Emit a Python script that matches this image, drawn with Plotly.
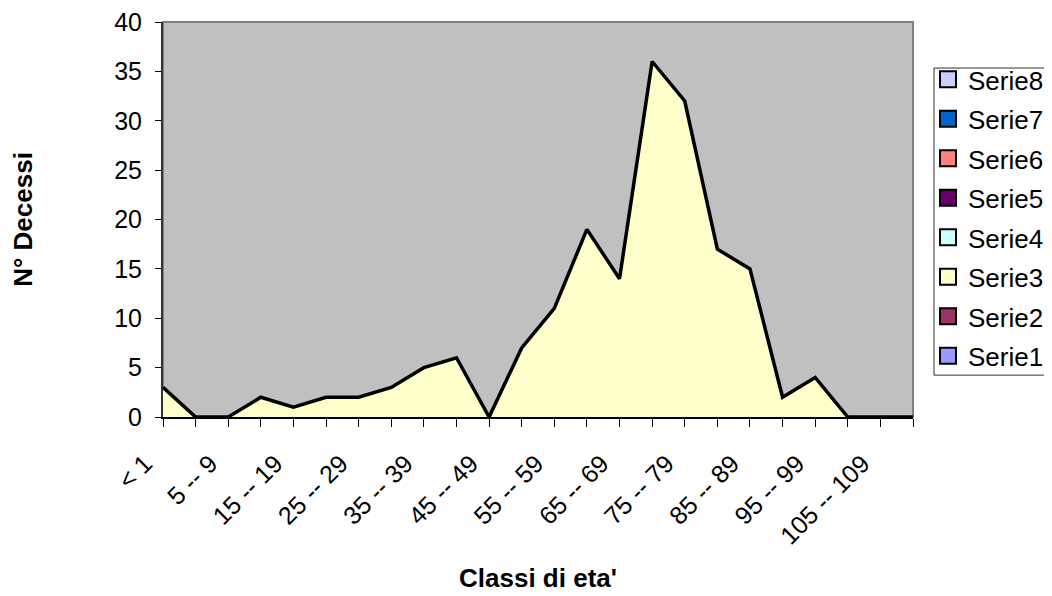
import plotly.graph_objects as go

categories = ["< 1", "1 -- 4", "5 -- 9", "10 -- 14", "15 -- 19", "20 -- 24",
              "25 -- 29", "30 -- 34", "35 -- 39", "40 -- 44", "45 -- 49",
              "50 -- 54", "55 -- 59", "60 -- 64", "65 -- 69", "70 -- 74",
              "75 -- 79", "80 -- 84", "85 -- 89", "90 -- 94", "95 -- 99",
              "100 -- 104", "105 -- 109", "> 109"]
serie3 = [3, 0, 0, 2, 1, 2, 2, 3, 5, 6, 0, 7, 11, 19, 14, 36, 32, 17, 15, 2, 4, 0, 0, 0]
series_names = ["Serie1", "Serie2", "Serie3", "Serie4", "Serie5", "Serie6", "Serie7", "Serie8"]
series_colors = ["#9999FF", "#993366", "#FFFFCC", "#CCFFFF", "#660066", "#FF8080", "#0066CC", "#CCCCFF"]
y_ticks = [0, 5, 10, 15, 20, 25, 30, 35, 40]

FONT = "Liberation Sans, Arial, sans-serif"

x_idx = list(range(len(categories)))

fig = go.Figure()
fig.add_trace(go.Scatter(
    x=x_idx, y=serie3, mode="lines", fill="tozeroy", fillcolor="#FFFFCC",
    line=dict(color="black", width=3.5), showlegend=False, name="Serie3",
    text=categories, hovertemplate="%{text}: %{y}<extra></extra>"))

# legend entries listed top (Serie8) to bottom (Serie1)
for name, color in list(zip(series_names, series_colors))[::-1]:
    fig.add_trace(go.Scatter(
        x=[None], y=[None], mode="markers", name=name, legendgroup=name,
        marker=dict(symbol="square", size=16, color=color,
                    line=dict(color="black", width=2))))

# plot area in figure px: left 155, top 14, width 750, height 395
fig.update_layout(
    width=1052, height=596,
    margin=dict(l=155, r=147, t=14, b=187, autoexpand=False),
    paper_bgcolor="white", plot_bgcolor="#C0C0C0",
    font=dict(family=FONT, color="black", size=25),
    showlegend=True,
    legend=dict(traceorder="grouped", tracegroupgap=2.7,
                x=1.02, xanchor="left", y=0.914, yanchor="top",
                bgcolor="rgba(0,0,0,0)", borderwidth=0,
                font=dict(size=26, family=FONT)),
    xaxis=dict(range=[0, 23], tickmode="array",
               tickvals=x_idx[::2], ticktext=categories[::2],
               tickangle=-45, ticks="outside", ticklen=8, tickcolor="black",
               tickwidth=1, showgrid=False, zeroline=False, automargin=False,
               showline=True, linecolor="black", linewidth=2,
               ticklabelstandoff=12, ticklabelshift=-18, ticklabeloverflow="allow",
               minor=dict(dtick=1, tick0=0, ticks="outside", ticklen=8,
                          tickcolor="black", tickwidth=1, showgrid=False),
               title=dict(text="<b>Classi di eta'</b>", font=dict(size=26), standoff=20)),
    yaxis=dict(range=[0, 40], tickmode="array", tickvals=y_ticks,
               ticks="outside", ticklen=6, tickcolor="black", tickwidth=1,
               showgrid=False, zeroline=False, automargin=False,
               showline=True, linecolor="#333333", linewidth=2,
               ticklabelstandoff=8, ticklabeloverflow="allow",
               title=dict(text="<b>N° Decessi</b>", font=dict(size=26), standoff=81)),
    shapes=[
        dict(type="rect", xref="paper", yref="paper", x0=0, x1=1, y0=0, y1=1,
             line=dict(color="#808080", width=2), layer="below"),
        dict(type="rect", xref="paper", yref="paper", x0=1.028, x1=1.186,
             y0=0.106, y1=0.8835, line=dict(color="#333333", width=1),
             fillcolor="rgba(0,0,0,0)", layer="above"),
    ],
)

fig.write_html("out.html")
